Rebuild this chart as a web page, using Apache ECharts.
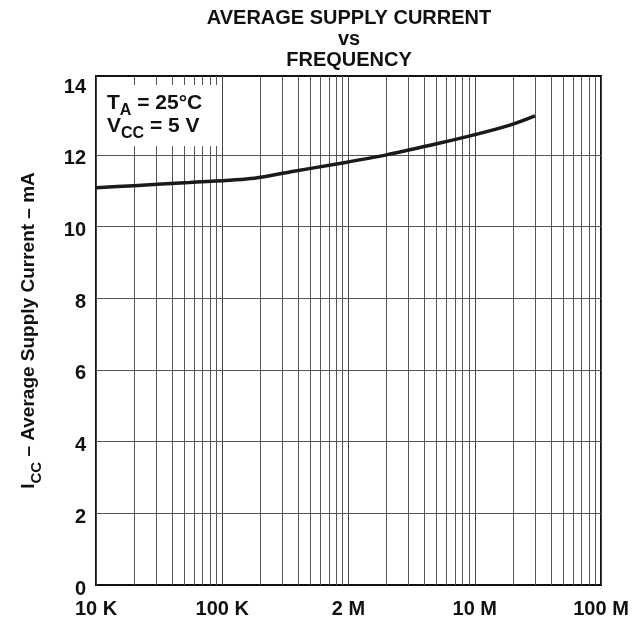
<!DOCTYPE html>
<html>
<head>
<meta charset="utf-8">
<title>Average Supply Current vs Frequency</title>
<script src="https://cdn.jsdelivr.net/npm/echarts@6/dist/echarts.min.js"></script>
<style>
  html, body { margin: 0; padding: 0; background: #fff; }
  #chart { width: 643px; height: 624px; }
</style>
</head>
<body>
<div id="chart"></div>
<script>
// curve
const frequency = [1e4, 2e4, 5.5e4, 1.8e5, 3.5e5, 8.5e5, 2e6, 5.3e6, 1.1e7, 1.9e7, 3e7];
const supplyCurrent = [11.08, 11.14, 11.23, 11.35, 11.53, 11.76, 12.0, 12.33, 12.6, 12.83, 13.09];

// decade labels as printed (the sheet says "2 M" at the 1 M line)
const xTickLabels = ["10 K", "100 K", "2 M", "10 M", "100 M"];
const yTickValues = [0, 2, 4, 6, 8, 10, 12, 14];

const FONT = '"Liberation Sans", Arial, Helvetica, sans-serif';
const INK = "#111";

// log grid: 2..9 inside each decade, plus horizontal lines every 2 mA
const xGrid = [];
[1e4, 1e5, 1e6, 1e7].forEach((d) => {
  for (let k = 2; k <= 9; k++) xGrid.push(k * d);
});
const yGrid = yTickValues.filter((v) => v > 0 && v < 14);

const chart = echarts.init(document.getElementById("chart"));

chart.setOption({
  animation: false,
  grid: {
    left: 96,
    right: 42,
    top: 76,
    bottom: 39,
    show: true,
    borderColor: INK,
    borderWidth: 2,
  },
  xAxis: {
    type: "log",
    logBase: 10,
    min: 1e4,
    max: 1e8,
    splitNumber: 4,
    axisLine: { show: false },
    axisTick: { show: false },
    splitLine: { show: true, lineStyle: { color: "#444", width: 1 } },
    axisLabel: {
      margin: 14,
      color: INK,
      fontFamily: FONT,
      fontWeight: "bold",
      fontSize: 20,
      formatter: (v) => xTickLabels[Math.round(Math.log10(v)) - 4] ?? "",
    },
  },
  yAxis: {
    type: "value",
    min: 0,
    max: 14.2,
    interval: 2,
    axisLine: { show: false },
    axisTick: { show: false },
    splitLine: { show: false },
    axisLabel: {
      margin: 10,
      verticalAlign: "top",
      lineHeight: 8,
      color: INK,
      fontFamily: FONT,
      fontWeight: "bold",
      fontSize: 20,
      formatter: (v) => (yTickValues.includes(v) ? String(v) : ""),
    },
    name: "{m|I}{s|CC}{m| – Average Supply Current – mA}",
    nameLocation: "middle",
    nameGap: 54,
    nameTextStyle: {
      color: INK,
      fontFamily: FONT,
      fontWeight: "bold",
      fontSize: 19,
      rich: {
        m: { fontFamily: FONT, fontWeight: "bold", fontSize: 19, lineHeight: 23, verticalAlign: "top", color: INK },
        s: { fontFamily: FONT, fontWeight: "bold", fontSize: 15, lineHeight: 13, padding: [10, 0, 0, 0], verticalAlign: "top", color: INK },
      },
    },
  },
  series: [
    {
      // grid lines only
      type: "line",
      data: [],
      silent: true,
      markLine: {
        silent: true,
        symbol: "none",
        label: { show: false },
        lineStyle: { type: "solid", color: "#555", width: 1 },
        data: xGrid.map((v) => ({ xAxis: v })).concat(yGrid.map((v) => ({ yAxis: v }))),
      },
    },
    {
      type: "line",
      z: 5,
      data: frequency.map((f, i) => [f, supplyCurrent[i]]),
      smooth: 0.3,
      showSymbol: false,
      lineStyle: { color: "#1a1a1a", width: 3.5 },
    },
  ],
  graphic: [
    {
      type: "text",
      z: 20,
      x: 349,
      y: 8,
      style: {
        text: "AVERAGE SUPPLY CURRENT\nvs\nFREQUENCY",
        font: 'bold 20px "Liberation Sans", Arial, sans-serif',
        lineHeight: 21,
        textAlign: "center",
        textVerticalAlign: "top",
        verticalAlign: "top",
        fill: INK,
      },
    },
    {
      // white panel behind the test conditions
      type: "rect",
      z: 20,
      shape: { x: 98, y: 85, width: 120, height: 61 },
      style: { fill: "#fff" },
    },
    {
      type: "text",
      z: 21,
      x: 107,
      y: 93,
      style: {
        text: "{m|T}{s|A}{m| = 25°C}\n{m|V}{s|CC}{m| = 5 V}",
        textVerticalAlign: "top",
        verticalAlign: "top",
        fill: INK,
        rich: {
          m: { fontFamily: FONT, fontWeight: "bold", fontSize: 21, lineHeight: 23, verticalAlign: "top", fill: INK, color: INK },
          s: { fontFamily: FONT, fontWeight: "bold", fontSize: 16, lineHeight: 13, padding: [10, 0, 0, 0], verticalAlign: "top", fill: INK, color: INK },
        },
      },
    },
  ],
});
</script>
</body>
</html>
